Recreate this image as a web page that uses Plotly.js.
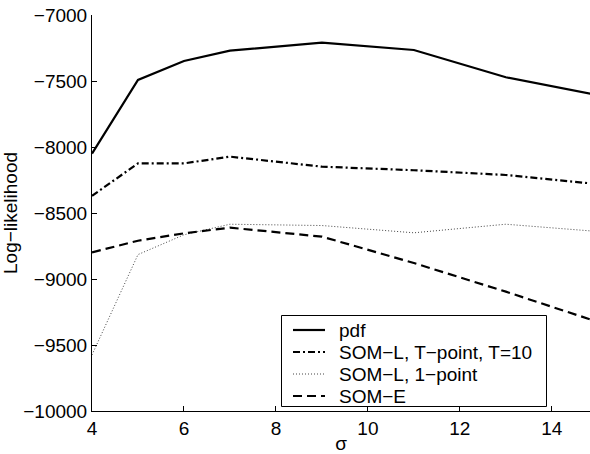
<!DOCTYPE html>
<html><head><meta charset="utf-8">
<script src="https://cdn.plot.ly/plotly-3.0.1.min.js"></script>
<style>html,body{margin:0;padding:0;background:#fff;}#c{width:590px;height:454px;}</style>
</head><body><div id="c"></div>
<script>
const sigma = [4, 5, 6, 7, 9, 11, 13, 15];
const pdf = [-8050, -7492, -7348, -7270, -7210, -7265, -7472, -7607];
const somLT = [-8370, -8124, -8124, -8073, -8149, -8176, -8212, -8281];
const somL1 = [-9575, -8815, -8665, -8585, -8595, -8650, -8585, -8640];
const somE = [-8798, -8710, -8654, -8611, -8679, -8879, -9096, -9325];
const names = ["pdf", "SOM\u2212L, T\u2212point, T=10", "SOM\u2212L, 1\u2212point", "SOM\u2212E"];
const yTicks = [-10000, -9500, -9000, -8500, -8000, -7500, -7000];
const xTicks = [4, 6, 8, 10, 12, 14];

const W = 590, H = 454, M = {l: 92, r: 0, t: 15, b: 43};
const PW = W - M.l - M.r, PH = H - M.t - M.b;
const px = x => (x - M.l) / PW;
const py = y => (H - M.b - y) / PH;

const font = {family: "Liberation Sans, Arial, sans-serif", size: 19, color: "#000"};
const styles = [
  {color: "#000", width: 2.2, dash: "solid"},
  {color: "#000", width: 2.2, dash: "7px,3px,2px,3px"},
  {color: "#444", width: 1, dash: "1px,2px"},
  {color: "#000", width: 2.2, dash: "9px,5px"}
];
const series = [pdf, somLT, somL1, somE];
const traces = series.map((s, i) => ({x: sigma, y: s, name: names[i], mode: "lines", line: styles[i], showlegend: false}));

// hand-drawn legend (MATLAB-style compact box)
const shapes = [{type: "rect", xref: "paper", yref: "paper", x0: px(281.5), x1: px(546.5), y0: py(406.5), y1: py(315.5),
  line: {color: "#000", width: 1}, fillcolor: "#fff", layer: "above"}];
const annotations = [];
const rowY = [330, 352, 374, 396];
names.forEach((n, i) => {
  shapes.push({type: "line", xref: "paper", yref: "paper", x0: px(293), x1: px(325), y0: py(rowY[i]), y1: py(rowY[i]), line: styles[i], layer: "above"});
  annotations.push({xref: "paper", yref: "paper", x: px(337), y: py(rowY[i]), xanchor: "left", yanchor: "middle", text: n, showarrow: false, font: font});
});

const layout = {
  width: W, height: H,
  margin: {l: M.l, r: M.r, t: M.t, b: M.b, pad: 0},
  paper_bgcolor: "#fff", plot_bgcolor: "#fff",
  font: font, showlegend: false,
  xaxis: {
    range: [4, 14.83], tickvals: xTicks, ticktext: xTicks.map(String),
    ticks: "inside", ticklen: 5, tickcolor: "#000", showgrid: false, zeroline: false,
    showline: true, linecolor: "#000", linewidth: 1, tickfont: font,
    title: {text: "\u03c3", font: font, standoff: 0}
  },
  yaxis: {
    range: [-10000, -7000], tickvals: yTicks, ticktext: yTicks.map(v => "\u2212" + Math.abs(v)),
    ticks: "inside", ticklen: 5, tickcolor: "#000", showgrid: false, zeroline: false,
    showline: true, linecolor: "#000", linewidth: 1, tickfont: font,
    title: {text: "Log\u2212likelihood", font: font, standoff: 4}
  },
  shapes: shapes,
  annotations: annotations
};
Plotly.newPlot("c", traces, layout, {displayModeBar: false, staticPlot: true});
</script></body></html>
